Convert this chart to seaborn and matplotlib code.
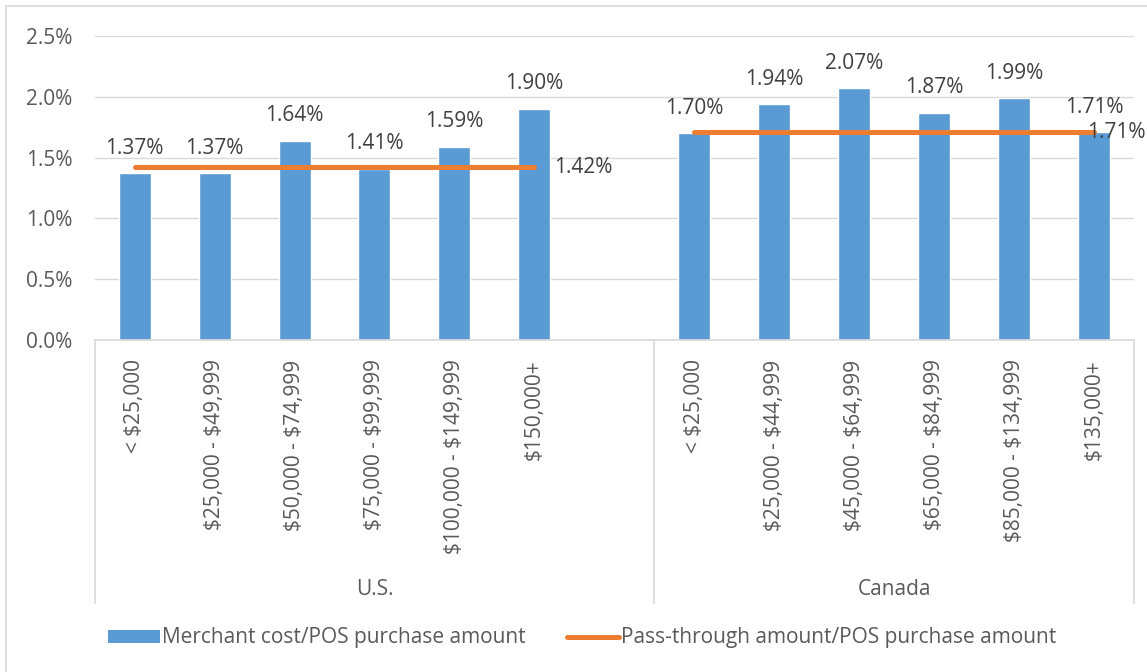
import matplotlib
matplotlib.use('Agg')
import matplotlib.pyplot as plt
import matplotlib.transforms as mtransforms
from matplotlib.patches import Rectangle, Patch
from matplotlib.lines import Line2D
import numpy as np
import pandas as pd
import seaborn as sns

# dados (valores em %)
us_bands = ['< $25,000', '$25,000 - $49,999', '$50,000 - $74,999',
            '$75,000 - $99,999', '$100,000 - $149,999', '$150,000+']
ca_bands = ['< $25,000', '$25,000 - $44,999', '$45,000 - $64,999',
            '$65,000 - $84,999', '$85,000 - $134,999', '$135,000+']
us_merchant = [1.37, 1.37, 1.64, 1.41, 1.59, 1.90]
ca_merchant = [1.70, 1.94, 2.07, 1.87, 1.99, 1.71]
us_pass = [1.42, 1.42, 1.42, 1.42, 1.42, 1.42]
ca_pass = [1.71, 1.71, 1.71, 1.71, 1.71, 1.71]
regions = ['U.S.', 'Canada']

BLUE = '#5B9BD5'
ORANGE = '#ED7D31'
GRID = '#D9D9D9'
TEXT = '#595959'
LABEL = '#404040'
FS = 15

sns.set_theme(style='white')
plt.rcParams['font.family'] = ['Open Sans', 'DejaVu Sans']
plt.rcParams['text.parse_math'] = False  # os "$" são texto, não mathtext

# posições: um espaço vazio entre os dois grupos
us_pos = np.arange(len(us_bands))
ca_pos = len(us_bands) + 1 + np.arange(len(ca_bands))

df = pd.DataFrame({
    'pos': np.concatenate([us_pos, ca_pos]),
    'band': us_bands + ca_bands,
    'region': [regions[0]] * len(us_bands) + [regions[1]] * len(ca_bands),
    'merchant': us_merchant + ca_merchant,
    'passthru': us_pass + ca_pass,
})

fig = plt.figure(figsize=(11.47, 6.72), dpi=100)
ax = fig.add_axes([0.0825, 0.494, 0.9062, 0.4524])

sns.barplot(data=df, x='pos', y='merchant', native_scale=True, width=0.4,
            color=BLUE, saturation=1, errorbar=None, ax=ax)
sns.lineplot(data=df, x='pos', y='passthru', hue='region',
             palette=[ORANGE, ORANGE], legend=False, lw=3.6,
             solid_capstyle='round', ax=ax)

# rótulos das barras
for _, row in df.iterrows():
    ax.annotate(f"{row['merchant']:.2f}%", (row['pos'], row['merchant']),
                xytext=(0, 18), textcoords='offset points',
                ha='center', va='center', fontsize=FS, color=LABEL)

# rótulos da linha (só no último ponto de cada grupo)
for pos, val, dx in [(us_pos[-1], us_pass[-1], 14), (ca_pos[-1], ca_pass[-1], -5)]:
    ax.annotate(f"{val:.2f}%", (pos, val), xytext=(dx, 0),
                textcoords='offset points', ha='left', va='center',
                fontsize=FS, color=LABEL, annotation_clip=False)

ax.set_xlim(-0.5, ca_pos[-1] + 0.5)
ax.set_ylim(0, 2.5)
ax.set_yticks(np.arange(0, 2.51, 0.5))
ax.set_yticklabels([f'{v:.1f}%' for v in np.arange(0, 2.51, 0.5)])
ax.set_xticks(df['pos'])
ax.set_xticklabels(df['band'], rotation=90)
ax.tick_params(axis='y', length=0, pad=16, labelsize=FS, labelcolor=TEXT)
ax.tick_params(axis='x', length=0, pad=14, labelsize=FS, labelcolor=TEXT)
ax.set_xlabel('')
ax.set_ylabel('')
ax.grid(axis='y', color=GRID, lw=1)
ax.set_axisbelow(True)
for s in ['left', 'right', 'top']:
    ax.spines[s].set_visible(False)
ax.spines['bottom'].set_color(GRID)
ax.spines['bottom'].set_linewidth(1.2)

# eixo de grupos (U.S. / Canada)
trans = mtransforms.blended_transform_factory(ax.transData, ax.transAxes)
edges = [-0.5, us_pos[-1] + 1.5, ca_pos[-1] + 0.5]
for x in edges:
    ax.plot([x, x], [0, -0.865], transform=trans, color=GRID, lw=1.2, clip_on=False)
for name, lo, hi in zip(regions, edges[:-1], edges[1:]):
    ax.text((lo + hi) / 2, -0.822, name, transform=trans, ha='center',
            va='center', fontsize=FS, color=TEXT)

# legenda
handles = [Patch(facecolor=BLUE, edgecolor='none'),
           Line2D([], [], color=ORANGE, lw=3.6, solid_capstyle='round')]
fig.legend(handles, ['Merchant cost/POS purchase amount',
                     'Pass-through amount/POS purchase amount'],
           loc='center', bbox_to_anchor=(582 / 1147, 1 - 638 / 672), ncol=2,
           frameon=False, fontsize=FS, labelcolor=TEXT, handlelength=2.5,
           handleheight=0.6, handletextpad=0.1, columnspacing=2.0)

# moldura do gráfico
fig.patches.append(Rectangle((6 / 1147, -0.05), 1.1, 1 - 6 / 672 + 0.05,
                             transform=fig.transFigure, fill=False,
                             edgecolor=GRID, lw=1.2))

fig.savefig('out.png', dpi=100)
